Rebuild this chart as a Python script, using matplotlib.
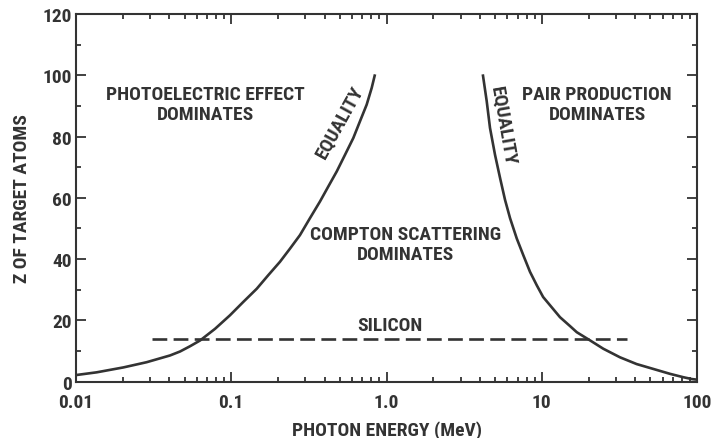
import numpy as np
import matplotlib
matplotlib.use("Agg")
import matplotlib.pyplot as plt
from matplotlib.ticker import FixedLocator, NullFormatter, LogLocator

# photon energy (MeV) vs Z where photoelectric = Compton
photo_energy = [0.01, 0.0136, 0.0202, 0.0285, 0.0403, 0.0468, 0.0542, 0.063,
                0.0786, 0.098, 0.1196, 0.146, 0.173, 0.206, 0.239, 0.277,
                0.321, 0.373, 0.422, 0.478, 0.540, 0.611, 0.675, 0.745,
                0.803, 0.843]
photo_z = [2.1, 3.0, 4.6, 6.3, 8.5, 9.8, 11.5, 13.4,
           17.2, 21.6, 26.0, 30.3, 34.7, 39.1, 43.4, 47.8,
           53.3, 58.8, 63.7, 68.6, 74.0, 79.5, 85.0, 90.4,
           95.9, 100.3]

# photon energy (MeV) vs Z where Compton = pair production
pair_energy = [4.17, 4.42, 4.64, 5.00, 5.39, 5.80, 6.25, 6.90, 7.61, 8.40,
               9.29, 10.2, 11.3, 13.1, 15.2, 16.8, 20.5, 24.9, 31.9, 40.8,
               52.3, 67.0, 81.6, 92.5, 100.0]
pair_z = [100.3, 91.5, 82.8, 74.0, 66.4, 59.3, 53.3, 46.7, 41.2, 35.8,
          31.4, 27.6, 24.9, 21.0, 18.1, 16.1, 13.4, 10.7, 7.9, 5.7,
          4.1, 2.5, 1.4, 0.8, 0.6]

silicon_energy = [0.031, 35.2]
silicon_z = [14, 14]

xticks = [0.01, 0.1, 1.0, 10, 100]
xtick_labels = ["0.01", "0.1", "1.0", "10", "100"]
yticks = [0, 20, 40, 60, 80, 100, 120]

ink = "#333333"
plt.rcParams["font.family"] = ["Liberation Sans Narrow", "Roboto Condensed",
                               "Open Sans Condensed", "DejaVu Sans"]
plt.rcParams["font.stretch"] = "condensed"
plt.rcParams["font.weight"] = "bold"
plt.rcParams["axes.labelweight"] = "bold"

fig = plt.figure(figsize=(7.13, 4.39), dpi=100)
ax = fig.add_axes([0.1066, 0.1287, 0.8710, 0.8371])

ax.plot(photo_energy, photo_z, color=ink, lw=1.9, solid_capstyle="butt")
ax.plot(pair_energy, pair_z, color=ink, lw=1.9, solid_capstyle="butt")
ax.plot(silicon_energy, silicon_z, color=ink, lw=1.9, dashes=(5.6, 2.4))

ax.set_xscale("log")
ax.set_xlim(0.01, 100)
ax.set_ylim(0, 120)

ax.xaxis.set_major_locator(FixedLocator(xticks))
ax.set_xticklabels(xtick_labels)
ax.xaxis.set_minor_locator(LogLocator(base=10, subs=np.arange(2, 10)))
ax.xaxis.set_minor_formatter(NullFormatter())
ax.set_yticks(yticks)
ax.yaxis.set_minor_locator(FixedLocator(np.arange(10, 120, 20)))

ax.tick_params(which="both", direction="in", top=True, right=True,
               color=ink, width=1.3, labelcolor=ink, labelsize=14)
ax.tick_params(axis="x", pad=8)
ax.tick_params(axis="y", pad=3)
ax.tick_params(which="major", length=7)
ax.tick_params(which="minor", length=3.5)
for s in ax.spines.values():
    s.set_color(ink)
    s.set_linewidth(1.5)

ax.set_xlabel("PHOTON ENERGY (MeV)", fontsize=14, color=ink, labelpad=7)
ax.set_ylabel("Z OF TARGET ATOMS", fontsize=14, color=ink, labelpad=8)

txt = dict(fontsize=14, color=ink, ha="center", va="center",
           linespacing=1.15)
ax.text(0.0678, 90.6, "PHOTOELECTRIC EFFECT\nDOMINATES", **txt)
ax.text(22.7, 90.6, "PAIR PRODUCTION\nDOMINATES", **txt)
ax.text(1.33, 44.8, "COMPTON SCATTERING\nDOMINATES", **txt)
ax.text(1.05, 18.5, "SILICON", **txt)
ax.text(0.50, 85.0, "EQUALITY", rotation=61, **txt)
ax.text(5.6, 83.8, "EQUALITY", rotation=-80, **txt)

fig.savefig("out.png", dpi=100)
